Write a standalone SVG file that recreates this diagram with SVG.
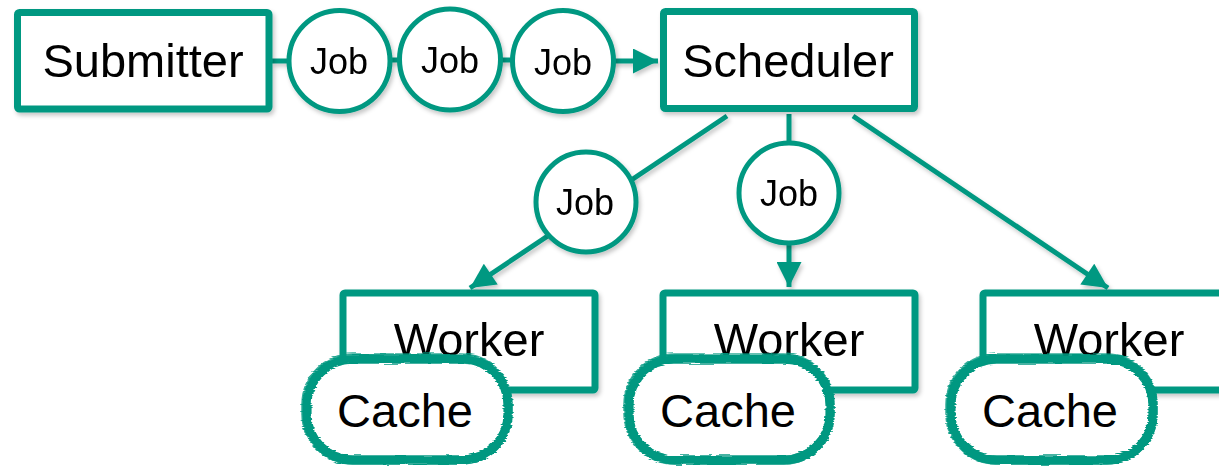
<svg xmlns="http://www.w3.org/2000/svg" width="1219" height="470" viewBox="0 0 1219 470">
  <style>
    .box { fill: #fff; stroke: #009881; stroke-width: 7; }
    .job { fill: #fff; stroke: #009881; stroke-width: 5; }
    .edge { fill: none; stroke: #009881; stroke-width: 5; }
    .lbl { font-family: "Liberation Sans", Arial, sans-serif; font-size: 47px; fill: #000; text-anchor: middle; }
    .jlbl { font-family: "Liberation Sans", Arial, sans-serif; font-size: 36px; fill: #000; text-anchor: middle; }
    .brush { fill: none; stroke: #009881; }
  </style>
  <defs>
    <filter id="shadow" x="-10%" y="-10%" width="130%" height="140%">
      <feDropShadow dx="2" dy="3" stdDeviation="2" flood-color="#000" flood-opacity="0.22"/>
    </filter>
    <filter id="rough" x="-10%" y="-15%" width="120%" height="130%">
      <feTurbulence type="fractalNoise" baseFrequency="0.05 0.7" numOctaves="2" seed="4" result="n"/>
      <feDisplacementMap in="SourceGraphic" in2="n" scale="4" xChannelSelector="R" yChannelSelector="G"/>
    </filter>
    <marker id="arrow" viewBox="0 0 10 10" refX="10" refY="5" markerUnits="userSpaceOnUse" markerWidth="26" markerHeight="25" orient="auto">
      <path d="M0,0 L10,5 L0,10 z" fill="#009881"/>
    </marker>
  </defs>

  <!-- connectors -->
  <g id="connectors" filter="url(#shadow)">
    <line class="edge" x1="272" y1="61" x2="290" y2="61"/>
    <line class="edge" x1="390" y1="60" x2="400" y2="60"/>
    <line class="edge" x1="500" y1="60" x2="512" y2="60"/>
    <line class="edge" x1="612" y1="61" x2="658" y2="61" marker-end="url(#arrow)"/>
    <line class="edge" x1="727" y1="116" x2="470" y2="288" marker-end="url(#arrow)"/>
    <line class="edge" x1="789" y1="114" x2="789" y2="287" marker-end="url(#arrow)"/>
    <line class="edge" x1="853" y1="116" x2="1108" y2="288" marker-end="url(#arrow)"/>
  </g>

  <!-- top row -->
  <g id="submitter" filter="url(#shadow)">
    <rect class="box" x="17.5" y="12.5" width="251.5" height="96.5" rx="2"/>
    <text class="lbl" x="143" y="77">Submitter</text>
  </g>
  <g id="job1" filter="url(#shadow)">
    <circle class="job" cx="339.5" cy="61" r="50.5"/>
    <text class="jlbl" x="339" y="74">Job</text>
  </g>
  <g id="job2" filter="url(#shadow)">
    <circle class="job" cx="450" cy="59.5" r="50.5"/>
    <text class="jlbl" x="450" y="73">Job</text>
  </g>
  <g id="job3" filter="url(#shadow)">
    <circle class="job" cx="563" cy="61" r="50.5"/>
    <text class="jlbl" x="563" y="75">Job</text>
  </g>
  <g id="scheduler" filter="url(#shadow)">
    <rect class="box" x="663.5" y="11.5" width="251" height="97" rx="2"/>
    <text class="lbl" x="788" y="77">Scheduler</text>
  </g>

  <!-- jobs in flight -->
  <g id="job4" filter="url(#shadow)">
    <circle class="job" cx="586" cy="202" r="50"/>
    <text class="jlbl" x="585" y="215">Job</text>
  </g>
  <g id="job5" filter="url(#shadow)">
    <circle class="job" cx="789" cy="193" r="50"/>
    <text class="jlbl" x="789" y="206">Job</text>
  </g>

  <!-- workers -->
  <g id="worker1" filter="url(#shadow)">
    <rect class="box" x="343" y="293" width="252" height="97" rx="2"/>
    <text class="lbl" x="469" y="356">Worker</text>
  </g>
  <g id="worker2" filter="url(#shadow)">
    <rect class="box" x="663" y="293" width="252" height="97" rx="2"/>
    <text class="lbl" x="789" y="356">Worker</text>
  </g>
  <g id="worker3" filter="url(#shadow)">
    <rect class="box" x="983" y="293" width="252" height="97" rx="2"/>
    <text class="lbl" x="1109" y="356">Worker</text>
  </g>

  <!-- brush-stroked caches -->
  <g id="cache1">
    <rect x="307" y="359" width="201" height="101" rx="46" fill="#fff"/>
    <g filter="url(#rough)">
      <rect class="brush" x="307" y="359" width="201" height="101" rx="46" stroke-width="9"/>
      <rect class="brush" x="302.5" y="354.5" width="209" height="109" rx="50" stroke-width="2.5" opacity="0.8"/>
      <rect class="brush" x="310.5" y="363" width="194" height="93" rx="42" stroke-width="1.5" opacity="0.6"/>
    </g>
    <text class="lbl" x="405" y="427">Cache</text>
  </g>
  <g id="cache2">
    <rect x="629" y="359" width="201" height="101" rx="46" fill="#fff"/>
    <g filter="url(#rough)">
      <rect class="brush" x="629" y="359" width="201" height="101" rx="46" stroke-width="9"/>
      <rect class="brush" x="624.5" y="354.5" width="209" height="109" rx="50" stroke-width="2.5" opacity="0.8"/>
      <rect class="brush" x="632.5" y="363" width="194" height="93" rx="42" stroke-width="1.5" opacity="0.6"/>
    </g>
    <text class="lbl" x="728" y="427">Cache</text>
  </g>
  <g id="cache3">
    <rect x="951" y="359" width="202" height="101" rx="46" fill="#fff"/>
    <g filter="url(#rough)">
      <rect class="brush" x="951" y="359" width="202" height="101" rx="46" stroke-width="9"/>
      <rect class="brush" x="946.5" y="354.5" width="210" height="109" rx="50" stroke-width="2.5" opacity="0.8"/>
      <rect class="brush" x="954.5" y="363" width="195" height="93" rx="42" stroke-width="1.5" opacity="0.6"/>
    </g>
    <text class="lbl" x="1050" y="427">Cache</text>
  </g>
</svg>
